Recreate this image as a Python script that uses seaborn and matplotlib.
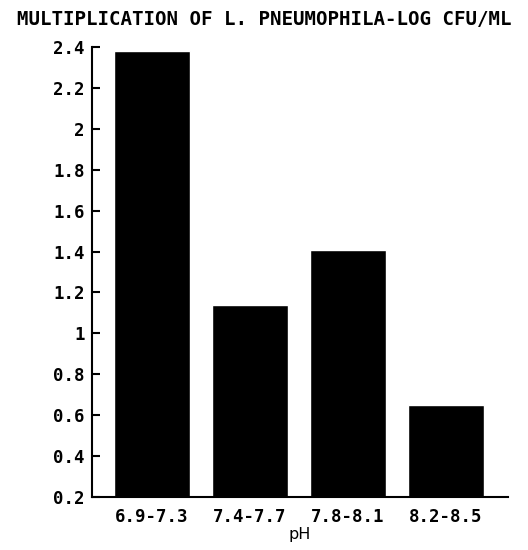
import numpy as np
import pandas as pd
import seaborn as sns
import matplotlib.pyplot as plt

ph_ranges = ['6.9-7.3', '7.4-7.7', '7.8-8.1', '8.2-8.5']
log_cfu = [2.38, 1.14, 1.41, 0.65]
y_ticks = [0.2, 0.4, 0.6, 0.8, 1.0, 1.2, 1.4, 1.6, 1.8, 2.0, 2.2, 2.4]
y_labels = ['0.2', '0.4', '0.6', '0.8', '1', '1.2', '1.4', '1.6', '1.8', '2', '2.2', '2.4']

df = pd.DataFrame({'pH': ph_ranges, 'growth': log_cfu})

sns.set_style('white')
plt.rcParams['font.family'] = ['DejaVu Sans Mono', 'DejaVu Sans']
plt.rcParams['font.weight'] = 'bold'
plt.rcParams['text.color'] = 'black'
plt.rcParams['axes.labelcolor'] = 'black'
plt.rcParams['xtick.color'] = 'black'
plt.rcParams['ytick.color'] = 'black'

fig = plt.figure(figsize=(5.28, 5.5), dpi=100)
ax = fig.add_axes([0.174, 0.0964, 0.788, 0.818])

# bars start from the axis floor at 0.2
sns.barplot(data=df, x='pH', y='growth', color='black', width=0.77,
            saturation=1, ax=ax)
for p in ax.patches:
    h = p.get_height()
    p.set_y(0.2)
    p.set_height(h - 0.2)

ax.set_ylim(0.2, 2.4)
ax.set_xlim(-0.61, 3.63)
ax.set_yticks(y_ticks)
ax.set_yticklabels(y_labels, fontsize=12.5, fontweight='bold')
ax.tick_params(axis='y', left=True, direction='in', length=6, width=1.5, pad=5,
               color='black', labelcolor='black')
ax.tick_params(axis='x', bottom=False, length=0, pad=8, labelsize=12.5,
               labelcolor='black')
for lab in ax.get_xticklabels():
    lab.set_fontweight('bold')

ax.set_xlabel('pH', fontsize=11.5, fontfamily='DejaVu Sans', labelpad=1,
              color='black')
ax.set_ylabel('')

for side in ['top', 'right']:
    ax.spines[side].set_visible(False)
for side in ['left', 'bottom']:
    ax.spines[side].set_color('black')
    ax.spines[side].set_linewidth(1.5)

fig.text(0.5, 0.965, 'MULTIPLICATION OF L. PNEUMOPHILA-LOG CFU/ML',
         ha='center', va='center', fontsize=13.8, fontweight='bold', color='black')

fig.savefig('out.png', dpi=100, facecolor='white')
